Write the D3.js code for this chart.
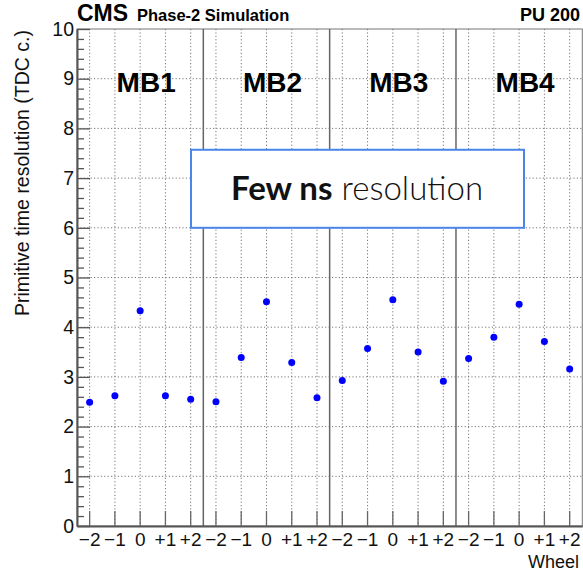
<!DOCTYPE html>
<html>
<head>
<meta charset="utf-8">
<script src="https://cdn.jsdelivr.net/npm/d3@7"></script>
<style>
  html, body { margin: 0; padding: 0; background: #fff; }
  svg { display: block; }
  text { font-family: "Liberation Sans", Arial, Helvetica, sans-serif; }
</style>
</head>
<body>
<svg id="chart" width="583" height="571"></svg>
<script>
// ---- data ----
const stations = ["MB1", "MB2", "MB3", "MB4"];
const wheels = ["\u22122", "\u22121", "0", "+1", "+2"];
const mb1 = [2.49, 2.62, 4.33, 2.62, 2.55];
const mb2 = [2.50, 3.39, 4.51, 3.29, 2.58];
const mb3 = [2.93, 3.57, 4.55, 3.50, 2.91];
const mb4 = [3.37, 3.80, 4.46, 3.71, 3.16];
const seriesValues = [mb1, mb2, mb3, mb4];
const yTicks = [0, 1, 2, 3, 4, 5, 6, 7, 8, 9, 10];
const yTitle = "Primitive time resolution (TDC c.)";
const xTitle = "Wheel";
const boxBold = "Few ns";
const boxLight = " resolution";

// ---- layout ----
const svg = d3.select("#chart");
const L = 77, R = 582.3, T = 29, B = 526;

const keys = [];
const points = [];
stations.forEach((s, si) => wheels.forEach((w, wi) => {
  const k = s + "|" + wi;
  keys.push(k);
  points.push({ key: k, station: s, wheel: w, value: seriesValues[si][wi] });
}));

const x = d3.scaleBand().domain(keys).range([L, R]).padding(0);
const xc = k => x(k) + x.bandwidth() / 2;
const y = d3.scaleLinear().domain([0, 10]).range([B, T]);

// frame
svg.append("rect").attr("x", L).attr("y", T).attr("width", R - L).attr("height", B - T)
  .attr("fill", "#fff").attr("stroke", "#777").attr("stroke-width", 1);

// grid
const grid = svg.append("g").attr("stroke", "#777").attr("stroke-width", 1)
  .attr("stroke-dasharray", "1.2,2.2");
grid.selectAll("line.v").data(keys).join("line").attr("class", "v")
  .attr("x1", d => xc(d)).attr("x2", d => xc(d)).attr("y1", T).attr("y2", B);
grid.selectAll("line.h").data(yTicks.filter(t => t > 0 && t < 10)).join("line").attr("class", "h")
  .attr("x1", L).attr("x2", R).attr("y1", d => y(d)).attr("y2", d => y(d));

// station dividers
const dividers = stations.slice(1).map(s => x(s + "|0"));
svg.append("g").selectAll("line").data(dividers).join("line")
  .attr("x1", d => d).attr("x2", d => d).attr("y1", T).attr("y2", B)
  .attr("stroke", "#666").attr("stroke-width", 1.5);

// x axis
const xAxis = d3.axisBottom(x)
  .tickValues(keys)
  .tickFormat(k => wheels[+k.split("|")[1]])
  .tickSizeInner(-15).tickSizeOuter(0).tickPadding(7);
const gx = svg.append("g").attr("transform", `translate(0,${B})`).call(xAxis);
gx.select(".domain").attr("stroke", "#555").attr("stroke-width", 2);
gx.selectAll(".tick line").attr("stroke", "#666").attr("stroke-width", 1.3);
gx.selectAll(".tick text").attr("font-size", 19).attr("fill", "#111")
  .attr("font-family", "Liberation Sans, Arial, sans-serif");

// y axis minor
const minor = d3.range(0, 10.001, 0.2).filter(v => Math.abs(v - Math.round(v)) > 1e-6);
const gyMinor = svg.append("g").attr("transform", `translate(${L},0)`)
  .call(d3.axisLeft(y).tickValues(minor).tickFormat("").tickSizeInner(-7).tickSizeOuter(0));
gyMinor.select(".domain").remove();
gyMinor.selectAll(".tick line").attr("stroke", "#555").attr("stroke-width", 1.3);

// y axis major
const gy = svg.append("g").attr("transform", `translate(${L},0)`)
  .call(d3.axisLeft(y).tickValues(yTicks).tickFormat(d3.format("d"))
    .tickSizeInner(-13).tickSizeOuter(0).tickPadding(3));
gy.select(".domain").attr("stroke", "#555").attr("stroke-width", 2);
gy.selectAll(".tick line").attr("stroke", "#555").attr("stroke-width", 1.3);
gy.selectAll(".tick text").attr("font-size", 19.5).attr("fill", "#111")
  .attr("font-family", "Liberation Sans, Arial, sans-serif");

// station labels
svg.append("g").selectAll("text").data(stations).join("text")
  .attr("x", s => (x(s + "|0") + x(s + "|4") + x.bandwidth()) / 2 + 6)
  .attr("y", 92)
  .attr("text-anchor", "middle")
  .attr("font-size", 28).attr("font-weight", "bold").attr("fill", "#000")
  .text(s => s);

// annotation box
svg.append("rect").attr("x", 191).attr("y", y(7.57)).attr("width", 333).attr("height", y(6) - y(7.57))
  .attr("fill", "#fff").attr("stroke", "#4a86e8").attr("stroke-width", 2);
const bt = svg.append("text").attr("x", 357).attr("y", 200).attr("text-anchor", "middle")
  .attr("font-size", 33).attr("fill", "#111")
  .style("font-family", "Lato, 'Open Sans', sans-serif");
bt.append("tspan").attr("font-weight", 700).text(boxBold);
bt.append("tspan").attr("font-weight", 300).text(boxLight);

// points
svg.append("g").selectAll("circle").data(points).join("circle")
  .attr("cx", d => xc(d.key)).attr("cy", d => y(d.value)).attr("r", 3.5)
  .attr("fill", "#0000ff");

// titles
svg.append("text").attr("x", 77).attr("y", 21).attr("font-size", 23).attr("font-weight", "bold")
  .attr("fill", "#000").text("CMS");
svg.append("text").attr("x", 137).attr("y", 21).attr("font-size", 16.5).attr("font-weight", "bold")
  .attr("fill", "#000").text("Phase-2 Simulation");
svg.append("text").attr("x", 580).attr("y", 21).attr("text-anchor", "end").attr("font-size", 18)
  .attr("font-weight", "bold").attr("fill", "#000").text("PU 200");

svg.append("text").attr("x", 579).attr("y", 568).attr("text-anchor", "end").attr("font-size", 18)
  .attr("fill", "#111").text(xTitle);
svg.append("text").attr("transform", "translate(29,30) rotate(-90)").attr("text-anchor", "end")
  .attr("font-size", 19.5).attr("fill", "#111").text(yTitle);
</script>
</body>
</html>
